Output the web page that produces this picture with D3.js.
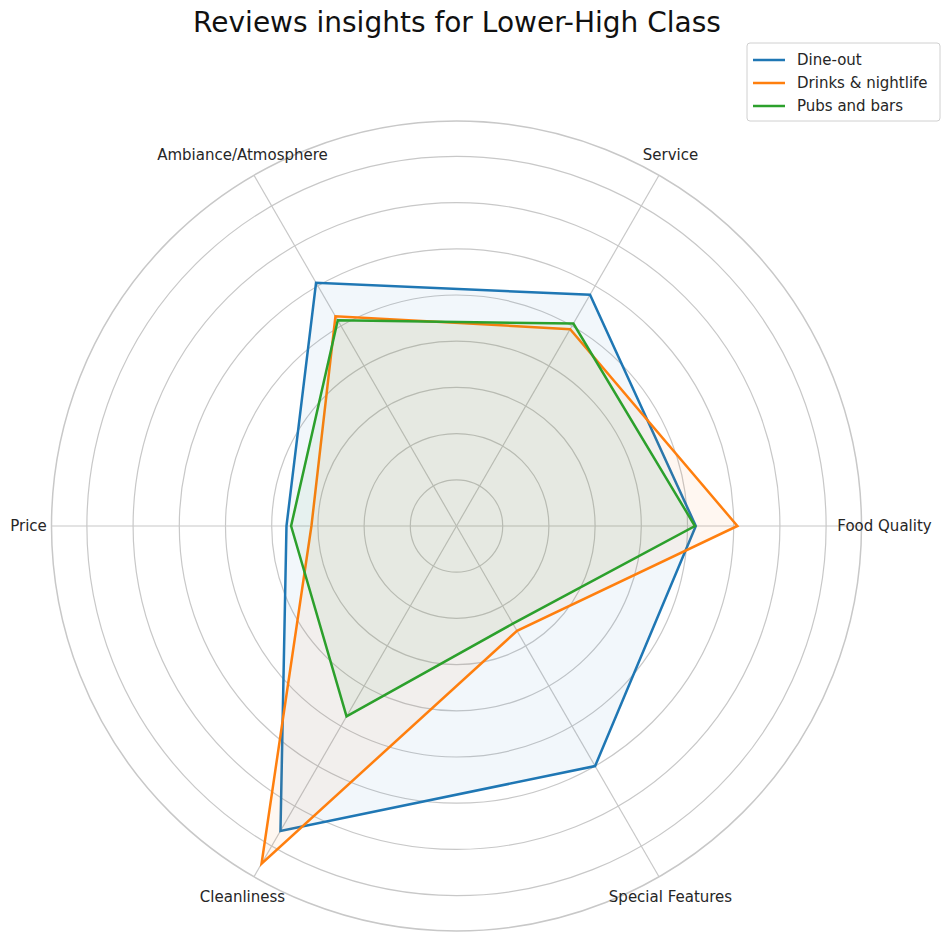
<!DOCTYPE html>
<html>
<head>
<meta charset="utf-8">
<script src="https://cdn.jsdelivr.net/npm/d3@7"></script>
<style>
  html, body { margin: 0; padding: 0; background: #fff; }
  svg { display: block; font-family: "DejaVu Sans", sans-serif; }
</style>
</head>
<body>
<svg id="chart" width="945" height="941"></svg>
<script>
const title = "Reviews insights for Lower-High Class";
const categories = ["Food Quality", "Service", "Ambiance/Atmosphere", "Price", "Cleanliness", "Special Features"];
const seriesNames = ["Dine-out", "Drinks & nightlife", "Pubs and bars"];
const dineOut = [2.59, 2.89, 3.04, 1.84, 3.81, 3.00];
const drinksNightlife = [3.04, 2.46, 2.62, 1.57, 4.22, 1.31];
const pubsBars = [2.58, 2.53, 2.57, 1.79, 2.38, 1.22];
const gridTicks = [0.5, 1.0, 1.5, 2.0, 2.5, 3.0, 3.5, 4.0];
const rMax = 4.383;
const colors = ["#1f77b4", "#ff7f0e", "#2ca02c"];

const series = [dineOut, drinksNightlife, pubsBars];

const svg = d3.select("#chart");
const cx = 456.5, cy = 526, R = 405;

const r = d3.scaleLinear().domain([0, rMax]).range([0, R]);
// matplotlib theta (ccw from east) -> d3 angle (cw from north)
const angle = d3.scaleLinear().domain([0, categories.length]).range([Math.PI / 2, Math.PI / 2 - 2 * Math.PI]);

const g = svg.append("g").attr("transform", `translate(${cx},${cy})`);

// grid circles
g.selectAll("circle.grid").data(gridTicks).join("circle")
  .attr("class", "grid")
  .attr("r", d => r(d))
  .attr("fill", "none")
  .attr("stroke", "#c8c8c8")
  .attr("stroke-width", 1.2);

// spokes
g.selectAll("line.spoke").data(categories).join("line")
  .attr("class", "spoke")
  .attr("x1", 0).attr("y1", 0)
  .attr("x2", (d, i) => r(rMax) * Math.sin(angle(i)))
  .attr("y2", (d, i) => -r(rMax) * Math.cos(angle(i)))
  .attr("stroke", "#c8c8c8")
  .attr("stroke-width", 1.2);

// outer spine
g.append("circle")
  .attr("r", r(rMax))
  .attr("fill", "none")
  .attr("stroke", "#c8c8c8")
  .attr("stroke-width", 1.5);

const radial = d3.lineRadial()
  .angle((d, i) => angle(i))
  .radius(d => r(d))
  .curve(d3.curveLinearClosed);

series.forEach((vals, si) => {
  g.append("path")
    .attr("d", radial(vals))
    .attr("fill", colors[si])
    .attr("fill-opacity", 0.06)
    .attr("stroke", "none");
  g.append("path")
    .attr("d", radial(vals))
    .attr("fill", "none")
    .attr("stroke", colors[si])
    .attr("stroke-width", 2.5)
    .attr("stroke-linejoin", "miter");
});

// category labels
const labelR = 428;
g.selectAll("text.cat").data(categories).join("text")
  .attr("class", "cat")
  .attr("x", (d, i) => labelR * Math.sin(angle(i)))
  .attr("y", (d, i) => -labelR * Math.cos(angle(i)))
  .attr("text-anchor", "middle")
  .attr("dominant-baseline", "central")
  .attr("font-size", 15)
  .attr("fill", "#262626")
  .text(d => d);

// title
svg.append("text")
  .attr("x", 457)
  .attr("y", 32)
  .attr("text-anchor", "middle")
  .attr("font-size", 28)
  .attr("fill", "#111")
  .text(title);

// legend
const lg = svg.append("g").attr("transform", "translate(747,43)");
lg.append("rect")
  .attr("x", 0).attr("y", 0)
  .attr("width", 193).attr("height", 78)
  .attr("rx", 3)
  .attr("fill", "#fff")
  .attr("stroke", "#d0d0d0");
seriesNames.forEach((name, i) => {
  const y = 17 + i * 23;
  lg.append("line")
    .attr("x1", 6).attr("x2", 38)
    .attr("y1", y).attr("y2", y)
    .attr("stroke", colors[i])
    .attr("stroke-width", 2.5);
  lg.append("text")
    .attr("x", 50).attr("y", y)
    .attr("dominant-baseline", "central")
    .attr("font-size", 15)
    .attr("fill", "#262626")
    .text(name);
});
</script>
</body>
</html>
